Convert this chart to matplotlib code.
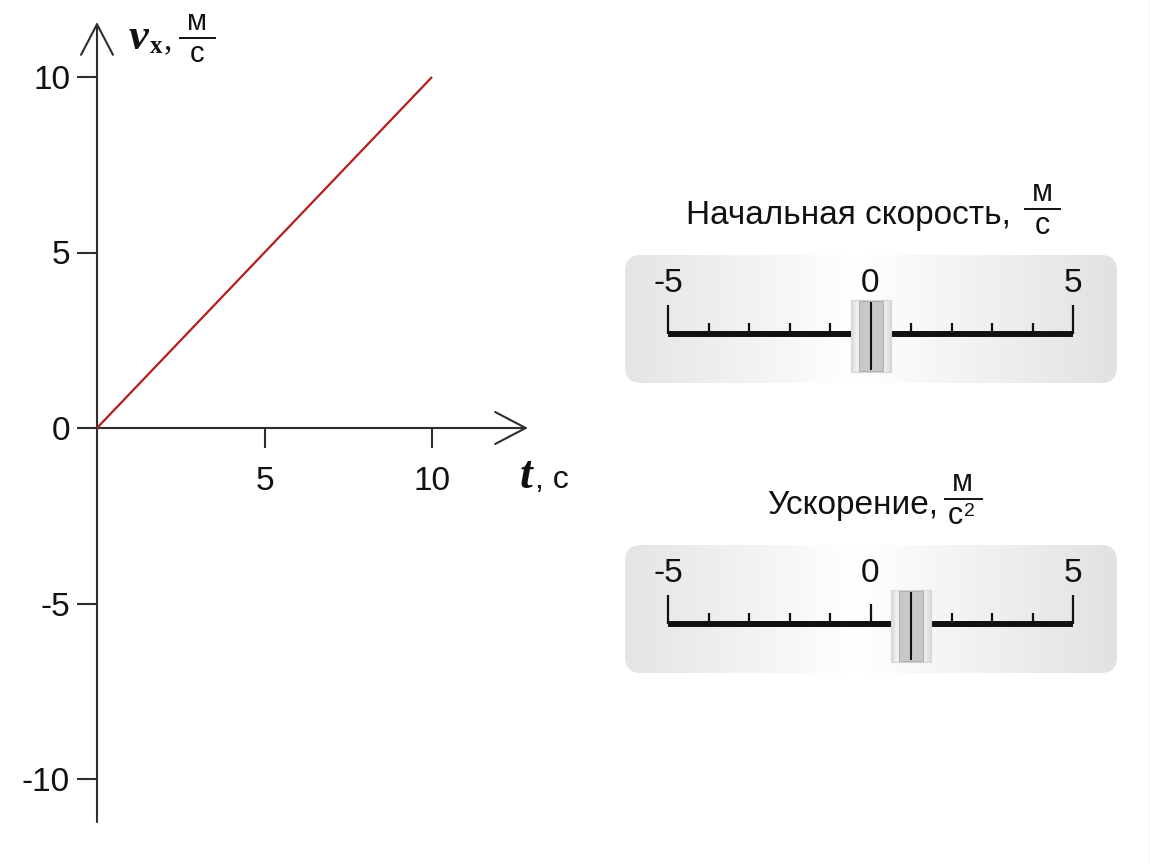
import matplotlib
matplotlib.use('Agg')
import matplotlib.pyplot as plt
import numpy as np
from matplotlib.patches import FancyBboxPatch, Rectangle

# ---- data ----
t_values = [0, 10]
v_values = [0, 10]
x_ticks = [5, 10]
y_ticks = [-10, -5, 0, 5, 10]
slider_ticks = [-5, -4, -3, -2, -1, 0, 1, 2, 3, 4, 5]
slider_labels = [-5, 0, 5]
v0_value = 0
a_value = 1

plt.rcParams['font.family'] = ['Liberation Sans', 'DejaVu Sans']
plt.rcParams['axes.unicode_minus'] = False

W, H = 1150, 864
fig = plt.figure(figsize=(W / 100, H / 100), dpi=100)
fig.patch.set_facecolor('white')


def fx(x):
    return x / W


def fy(y):
    return 1 - y / H


SERIF = 'Liberation Serif'
DARK = '#2e2e2e'
TXT = '#111111'
FS = 24

# ---- overlay in pixel coordinates ----
ov = fig.add_axes([0, 0, 1, 1], zorder=0)
ov.set_xlim(0, W)
ov.set_ylim(H, 0)
ov.axis('off')
ov.axvline(1149.5, color='#a8ecec', lw=1)

# ---- main chart ----
L, R, T, B = 60, 560, 10, 850
ox, oy = 97, 428
sx, sy = 33.5, 35.1
ax = fig.add_axes([fx(L), fy(B), (R - L) / W, (B - T) / H], zorder=2)
ax.patch.set_alpha(0)
ax.set_xlim((L - ox) / sx, (R - ox) / sx)
ax.set_ylim((oy - B) / sy, (oy - T) / sy)
for s in ['top', 'right']:
    ax.spines[s].set_visible(False)
ax.spines['left'].set_position(('data', 0))
ax.spines['bottom'].set_position(('data', 0))
ax.spines['left'].set_color('none')
ax.spines['bottom'].set_color('none')
ax.set_xticks(x_ticks)
ax.set_yticks(y_ticks)
ax.tick_params(axis='both', direction='out', length=14.4, width=1.5,
               color=DARK, labelsize=FS, labelcolor=TXT)
ax.tick_params(axis='y', pad=5)
ax.tick_params(axis='x', pad=13)

arrow = dict(arrowstyle='->,head_length=2.2,head_width=1.15', lw=1.5,
             color=DARK, shrinkA=0, shrinkB=0, mutation_scale=10)
ax.annotate('', xy=(0, (oy - 22) / sy), xytext=(0, (oy - 822) / sy),
            arrowprops=arrow)
ax.annotate('', xy=((528 - ox) / sx, 0), xytext=(0, 0), arrowprops=arrow)

ax.plot(t_values, v_values, color='#b21e1e', lw=1.6, zorder=3,
        solid_capstyle='butt')

# axis labels
fig.text(fx(129), fy(49), 'v', fontfamily=SERIF, fontweight='bold',
         fontstyle='italic', fontsize=32, color=TXT, va='baseline', ha='left')
fig.text(fx(150), fy(53), 'x', fontfamily=SERIF, fontweight='bold',
         fontsize=18, color=TXT, va='baseline', ha='left')
fig.text(fx(164), fy(49), ',', fontfamily=SERIF, fontsize=24, color=TXT,
         va='baseline', ha='left')
fig.text(fx(197), fy(30), 'м', fontsize=21, color=TXT, va='baseline', ha='center')
ov.plot([180, 215], [38, 38], color=TXT, lw=1.4)
fig.text(fx(197), fy(62), 'с', fontsize=21, color=TXT, va='baseline', ha='center')

fig.text(fx(520), fy(488), 't', fontfamily=SERIF, fontweight='bold',
         fontstyle='italic', fontsize=33, color=TXT, va='baseline', ha='left')
fig.text(fx(535), fy(488), ', с', fontsize=23, color=TXT, va='baseline', ha='left')

# ---- slider titles ----
fig.text(fx(686), fy(224), 'Начальная скорость,', fontsize=FS, color=TXT,
         va='baseline', ha='left')
fig.text(fx(1042), fy(201), 'м', fontsize=22, color=TXT, va='baseline', ha='center')
ov.plot([1025, 1060], [209, 209], color=TXT, lw=1.4)
fig.text(fx(1042), fy(234), 'с', fontsize=22, color=TXT, va='baseline', ha='center')

fig.text(fx(767), fy(514), 'Ускорение,', fontsize=FS, color=TXT,
         va='baseline', ha='left')
fig.text(fx(962), fy(491), 'м', fontsize=22, color=TXT, va='baseline', ha='center')
ov.plot([945, 982], [499, 499], color=TXT, lw=1.4)
fig.text(fx(955), fy(524), 'с', fontsize=22, color=TXT, va='baseline', ha='center')
fig.text(fx(964), fy(516), '2', fontsize=14, color=TXT, va='baseline', ha='left')

# ---- sliders ----
box_x0, box_w, box_h = 625, 492, 128
px_per_unit = 40.5
u = np.linspace(0, 1, 300)
g = np.interp(u, [0, 0.47, 1], [0.895, 1.0, 0.885])
grad = np.dstack([g, g, g])
tu = np.linspace(0, 1, 60)
tg = np.interp(tu, [0, 0.2, 0.5, 0.8, 1], [0.86, 0.97, 0.99, 0.97, 0.86])
thumb_grad = np.dstack([tg, tg, tg])


def draw_slider(top, value):
    patch = FancyBboxPatch((box_x0, top), box_w, box_h,
                           boxstyle='round,pad=0,rounding_size=16',
                           transform=ov.transData, facecolor='none',
                           edgecolor='none')
    ov.add_patch(patch)
    im = ov.imshow(grad, extent=(box_x0, box_x0 + box_w, top + box_h, top),
                   aspect='auto', interpolation='bilinear', zorder=1)
    im.set_clip_path(patch)
    ov.set_xlim(0, W)
    ov.set_ylim(H, 0)

    sa = fig.add_axes([fx(box_x0), fy(top + box_h), box_w / W, box_h / H],
                      zorder=3)
    sa.patch.set_alpha(0)
    sa.axis('off')
    sa.set_xlim(-5 - 43 / px_per_unit, 5 + 44 / px_per_unit)
    sa.set_ylim(box_h, 0)
    ly = 79
    sa.plot([slider_ticks[0], slider_ticks[-1]], [ly, ly], color='#111111',
            lw=4.3, solid_capstyle='butt', zorder=2)
    for tk in slider_ticks:
        if tk in (slider_ticks[0], slider_ticks[-1]):
            top_y = 50
        elif tk == 0:
            top_y = 59
        else:
            top_y = 68
        sa.plot([tk, tk], [top_y, ly], color='#111111', lw=1.6,
                solid_capstyle='butt', zorder=2)
    for lb in slider_labels:
        sa.text(lb, 37, str(lb), fontsize=FS, color=TXT, ha='center',
                va='baseline')
    hw = 20 / px_per_unit
    sa.imshow(thumb_grad, extent=(value - hw, value + hw, 117, 45),
              aspect='auto', interpolation='bilinear', zorder=4)
    sa.add_patch(Rectangle((value - hw, 45), 2 * hw, 72, facecolor='none',
                           edgecolor='#d6d6d6', lw=0.8, zorder=4.5))
    iw = 12 / px_per_unit
    sa.add_patch(Rectangle((value - iw, 46), 2 * iw, 70, facecolor='#c8c8c8',
                           edgecolor='#b0b0b0', lw=0.8, zorder=5))
    sa.plot([value, value], [47, 115], color='#111111', lw=1.5, zorder=6,
            solid_capstyle='butt')
    sa.set_xlim(-5 - 43 / px_per_unit, 5 + 44 / px_per_unit)
    sa.set_ylim(box_h, 0)


draw_slider(255, v0_value)
draw_slider(545, a_value)

fig.savefig('out.png', dpi=100, facecolor='white')
